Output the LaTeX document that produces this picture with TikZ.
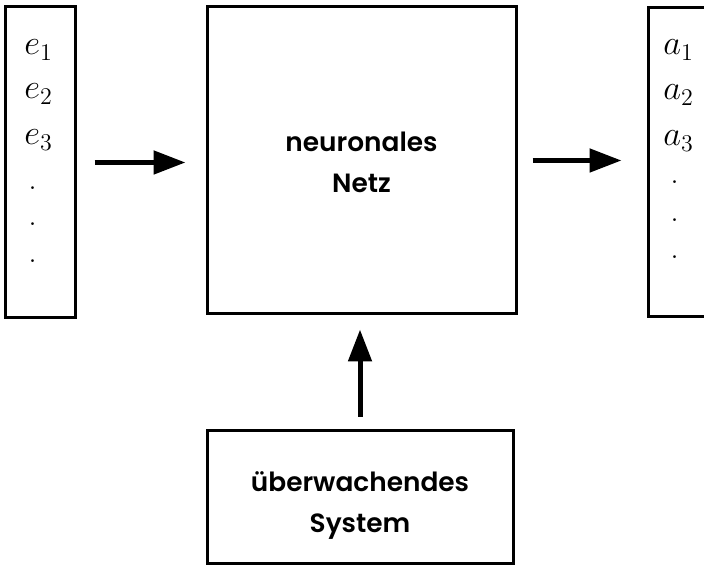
\documentclass[tikz,border=0pt]{standalone}
\usepackage{fontspec}
\usetikzlibrary{arrows.meta}
\newfontfamily\gothic{Poppins SemiBold}
\tikzset{
  box/.style={draw, line width=1.5pt, inner sep=0pt},
  pfeil/.style={-{Triangle[length=16pt,width=11.5pt]}, line width=2.5pt},
  label/.style={font=\gothic\fontsize{13.2}{20.5}\selectfont, align=center},
  var/.style={anchor=base west, inner sep=0pt, font=\fontsize{17}{20}\selectfont}
}
\begin{document}
\begin{tikzpicture}[x=0.5pt,y=-0.5pt]
\useasboundingbox (0,0) rectangle (704,565);
\clip (0,0) rectangle (704,565);

\node[box, minimum width=35pt, minimum height=155.5pt] (in) at (40,162.5) {};
\node[box, minimum width=154.5pt, minimum height=153.5pt] (net) at (361.5,160.5) {};
\node[box, minimum width=40pt, minimum height=154.5pt] (out) at (688,162.5) {};
\node[box, minimum width=153pt, minimum height=66.5pt] (sys) at (360,496.5) {};

\draw[pfeil, shorten <=9pt, shorten >=10pt]  (in.east) -- (in.east -| net.west);
\draw[pfeil, shorten <=7.5pt, shorten >=12.5pt]  (net.east) -- (net.east -| out.west);
\draw[pfeil, shorten <=6pt, shorten >=7pt]  (sys.north) -- (sys.north |- net.south);

\node[label] (netz) at (361.5,162) {neuronales\\Netz};
\node[label] (ueb) at (360,506) {überwachendes\\System};

\node[var] (e1) at (24,55) {$e_1$};
\node[var] (e2) at (24,99) {$e_2$};
\node[var] (e3) at (24,145) {$e_3$};
\node[var] (ed1) at (28,190) {.};
\node[var] (ed2) at (28,226) {.};
\node[var] (ed3) at (28,263) {.};

\node[var] (a1) at (663,55) {$a_1$};
\node[var] (a2) at (663,100) {$a_2$};
\node[var] (a3) at (663,146) {$a_3$};
\node[var] (ad1) at (670,184) {.};
\node[var] (ad2) at (670,222) {.};
\node[var] (ad3) at (670,259) {.};
\end{tikzpicture}
\end{document}
